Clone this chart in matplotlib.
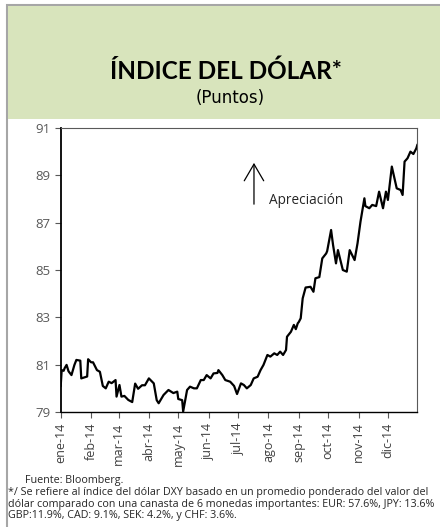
#!/usr/bin/env python3
"""
Indice del dolar (DXY), 2014 - recreacion del grafico.
"""

import matplotlib
matplotlib.use("Agg")
import matplotlib.pyplot as plt
from matplotlib.patches import Rectangle
import pandas as pd

# days since 2014-01-01 and DXY level
days = [0, 1, 3, 4, 6, 8, 11, 14, 16, 20, 21, 27, 28, 31, 33, 37, 40, 43, 46, 49,
        52, 56, 57, 60, 62, 65, 69, 73, 76, 79, 83, 86, 90, 95, 98, 100, 105, 110,
        115, 119, 120, 124, 125, 129, 132, 136, 139, 143, 146, 149, 153, 156, 160,
        161, 165, 168, 173, 177, 180, 184, 187, 190, 194, 197, 201, 204, 207, 211,
        214, 218, 221, 224, 227, 230, 231, 235, 238, 240, 242, 243, 245, 247, 250,
        255, 258, 260, 264, 267, 271, 272, 276, 278, 281, 283, 285, 288, 292, 295,
        300, 303, 306, 310, 311, 315, 318, 322, 325, 329, 332, 334, 338, 340, 343,
        347, 349, 351, 354, 357, 360, 363, 364]
dxy = [80.10, 80.77, 80.74, 80.85, 80.99, 80.72, 80.56, 80.99, 81.20, 81.17, 80.42,
       80.50, 81.23, 81.10, 81.10, 80.77, 80.70, 80.10, 80.00, 80.28, 80.22, 80.35,
       79.65, 80.14, 79.65, 79.68, 79.51, 79.42, 80.20, 79.98, 80.13, 80.13, 80.42,
       80.21, 79.50, 79.37, 79.72, 79.93, 79.80, 79.86, 79.55, 79.50, 79.02, 79.93,
       80.07, 80.00, 80.00, 80.35, 80.35, 80.56, 80.42, 80.63, 80.65, 80.77, 80.56,
       80.35, 80.28, 80.10, 79.76, 80.21, 80.14, 80.00, 80.14, 80.42, 80.49, 80.77,
       80.99, 81.41, 81.34, 81.48, 81.41, 81.55, 81.41, 81.62, 82.18, 82.39, 82.68,
       82.50, 82.75, 82.80, 82.96, 83.80, 84.26, 84.29, 84.08, 84.65, 84.70, 85.49,
       85.70, 85.80, 86.69, 86.06, 85.28, 85.84, 85.50, 85.00, 84.93, 85.84, 85.42,
       86.13, 87.04, 88.03, 87.70, 87.61, 87.75, 87.70, 88.31, 87.61, 88.31, 87.96,
       89.37, 89.00, 88.45, 88.38, 88.17, 89.58, 89.72, 90.00, 89.90, 90.14, 90.28]

month_labels = ['ene-14', 'feb-14', 'mar-14', 'abr-14', 'may-14', 'jun-14',
                'jul-14', 'ago-14', 'sep-14', 'oct-14', 'nov-14', 'dic-14']
y_ticks = [79, 81, 83, 85, 87, 89, 91]

title = 'ÍNDICE DEL DÓLAR*'
subtitle = '(Puntos)'
source = 'Fuente: Bloomberg.'
note = ('*/ Se refiere al índice del dólar DXY basado en un promedio ponderado del valor del\n'
        'dólar comparado con una canasta de 6 monedas importantes: EUR: 57.6%, JPY: 13.6%\n'
        'GBP:11.9%, CAD: 9.1%, SEK: 4.2%, y CHF: 3.6%.')

plt.rcParams['font.family'] = ['Open Sans', 'DejaVu Sans']

W, H = 440, 527
fig = plt.figure(figsize=(W / 100, H / 100), dpi=100)

# outer frame and green header
fig.patches.append(Rectangle((7 / W, -0.05), 1, 1.05 - 5 / H, transform=fig.transFigure,
                             facecolor='none', edgecolor='#a6a6a6', linewidth=1.5,
                             zorder=-2))
fig.patches.append(Rectangle((8 / W, 1 - 119 / H), 1, 113 / H, transform=fig.transFigure,
                             facecolor='#d8e4bc', edgecolor='none', zorder=-1))
fig.text(226 / W, 1 - 71 / H, title, ha='center', va='center', fontsize=17.5,
         fontweight='bold', color='black', family=['Lato', 'DejaVu Sans'])
fig.text(230 / W, 1 - 98 / H, subtitle, ha='center', va='center', fontsize=12,
         color='black', family=['DejaVu Sans'])

ax = fig.add_axes([60.7 / W, 1 - 412 / H, 356.6 / W, 284 / H])

start = pd.Timestamp('2014-01-01')
dates = start + pd.to_timedelta(days, unit='D')
ax.plot(dates, dxy, color='black', linewidth=1.6)

ax.set_xlim(start, pd.Timestamp('2014-12-31'))
ax.set_ylim(79, 91)
ax.set_yticks(y_ticks)
ax.tick_params(axis='y', labelsize=9.5, colors='#595959', length=4, width=0.8)
month_starts = pd.date_range('2014-01-01', periods=12, freq='MS')
ax.set_xticks(month_starts)
ax.set_xticklabels(month_labels, rotation=90, fontsize=9, color='#404040')
ax.tick_params(axis='x', length=4, width=0.8, color='#595959')

ax.spines['left'].set_color('black')
ax.spines['left'].set_linewidth(1.3)
ax.spines['bottom'].set_color('black')
ax.spines['bottom'].set_linewidth(1.0)
ax.spines['top'].set_color('#595959')
ax.spines['top'].set_linewidth(0.8)
ax.spines['right'].set_color('#595959')
ax.spines['right'].set_linewidth(0.8)

# appreciation arrow
ax.annotate('', xy=(0.542, 0.887), xytext=(0.542, 0.722), xycoords='axes fraction',
            arrowprops=dict(arrowstyle='->,head_length=1.2,head_width=0.7',
                            color='black', linewidth=0.9))
ax.text(0.584, 0.745, 'Apreciación', transform=ax.transAxes, fontsize=9.8,
        va='center', ha='left', color='#262626')

fig.text(25 / W, 1 - 481 / H, source, ha='left', va='center', fontsize=7.75,
         color='#262626')
fig.text(8 / W, 1 - 504 / H, note, ha='left', va='center', fontsize=7.75,
         color='#262626', linespacing=1.1)

fig.savefig('out.png', dpi=100)
